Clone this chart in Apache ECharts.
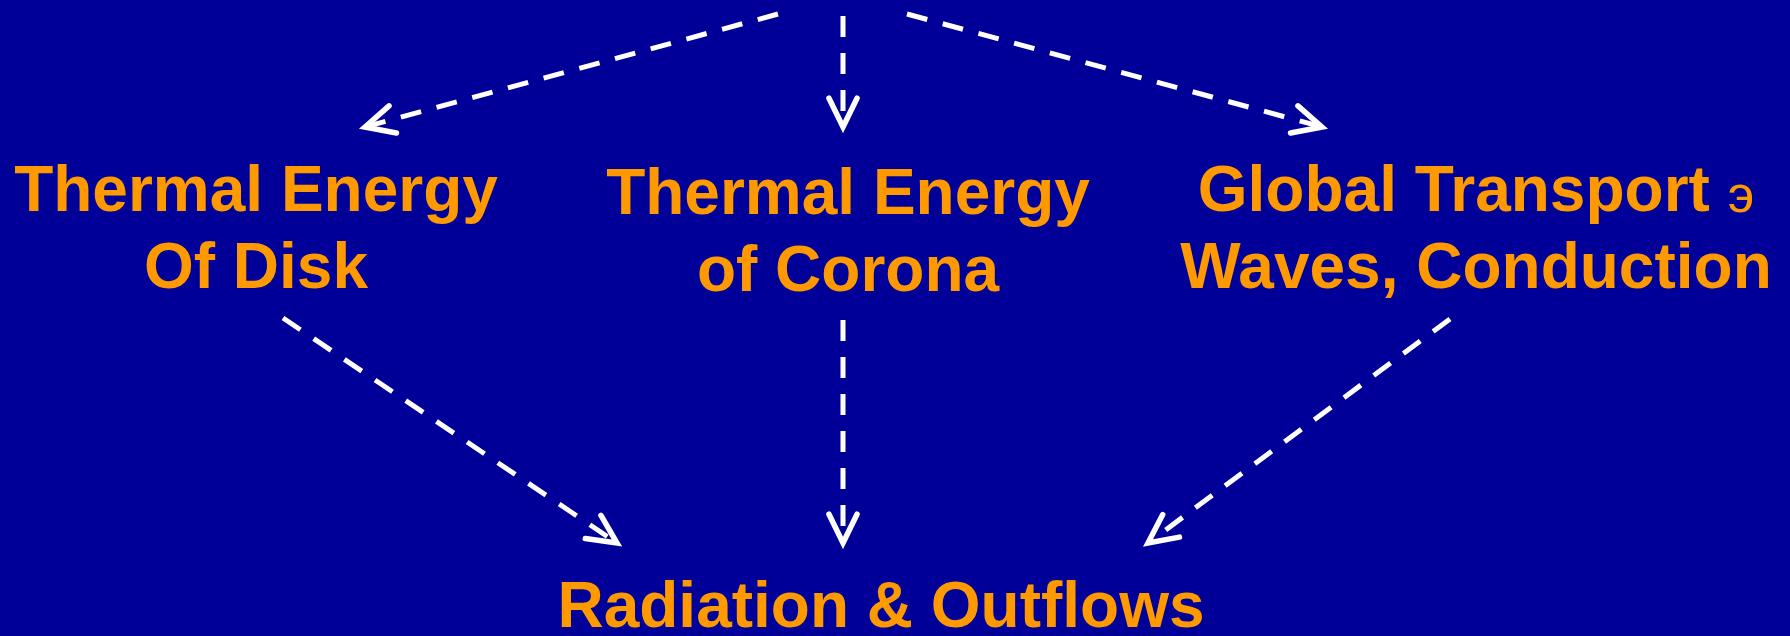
<!DOCTYPE html>
<html>
<head>
<meta charset="utf-8">
<script src="https://cdn.jsdelivr.net/npm/echarts@6/dist/echarts.min.js"></script>
<style>
html,body{margin:0;padding:0;background:#000099;}
#chart{width:1790px;height:636px;}
</style>
</head>
<body>
<div id="chart"></div>
<script>
// Diagram content
const nodeLabels = [
  'Thermal Energy\nOf Disk',
  'Thermal Energy\nof Corona',
  'Global Transport {s|э}\nWaves, Conduction',
  'Radiation & Outflows'
];
// node anchor positions (diagram units, y measured downward)
const nodeX = [256, 848, 1476, 881];
const nodeY = [232, 235, 232, 609];

// arrows: start and tip
const arrowFromX = [778, 843, 907, 283, 843, 1450];
const arrowFromY = [14, 16, 14, 318, 320, 319];
const arrowToX   = [365, 843, 1322, 617, 843, 1148];
const arrowToY   = [127, 127, 127, 543, 543, 543];

const W = 1790, H = 636;
const ORANGE = '#FF9900';

const arrowData = arrowFromX.map((x, i) => [x, arrowFromY[i], arrowToX[i], arrowToY[i]]);
const nodeData = nodeX.map((x, i) => [x, nodeY[i]]);

const chart = echarts.init(document.getElementById('chart'));
chart.setOption({
  backgroundColor: '#000099',
  animation: false,
  grid: {left: 0, right: 0, top: 0, bottom: 0},
  xAxis: {type: 'value', min: 0, max: W, show: false},
  yAxis: {type: 'value', min: 0, max: H, inverse: true, show: false},
  series: [
    {
      type: 'custom',
      data: arrowData,
      renderItem: function (params, api) {
        const p1 = api.coord([api.value(0), api.value(1)]);
        const p2 = api.coord([api.value(2), api.value(3)]);
        const dx = p2[0] - p1[0], dy = p2[1] - p1[1];
        const len = Math.hypot(dx, dy);
        const bx = -dx / len, by = -dy / len;
        const L = 32, a = 26 * Math.PI / 180;
        const rot = (ang) => [
          p2[0] + L * (bx * Math.cos(ang) - by * Math.sin(ang)),
          p2[1] + L * (bx * Math.sin(ang) + by * Math.cos(ang))
        ];
        const w1 = rot(a), w2 = rot(-a);
        return {
          type: 'group',
          children: [
            {type: 'line', shape: {x1: p1[0], y1: p1[1], x2: p2[0] + bx * 3, y2: p2[1] + by * 3},
             style: {stroke: '#FFFFFF', lineWidth: 5, lineDash: [21, 16], fill: null}},
            {type: 'polyline', shape: {points: [w1, p2, w2]},
             style: {stroke: '#FFFFFF', lineWidth: 5.5, fill: null, lineJoin: 'miter', lineCap: 'round'}}
          ]
        };
      }
    },
    {
      type: 'scatter',
      data: nodeData,
      symbolSize: 0,
      itemStyle: {opacity: 1},
      label: {
        show: true,
        position: 'inside',
        opacity: 1,
        formatter: (p) => nodeLabels[p.dataIndex],
        color: ORANGE,
        fontFamily: '"Liberation Sans", Arial, sans-serif',
        fontWeight: 'bold',
        fontSize: 64,
        lineHeight: 77,
        align: 'center',
        verticalAlign: 'middle',
        rich: {
          s: {color: ORANGE, fontFamily: '"Liberation Sans", Arial, sans-serif',
              fontWeight: 'normal', fontSize: 52, padding: [8, 0, 0, 0]}
        }
      }
    }
  ]
});
</script>
</body>
</html>
